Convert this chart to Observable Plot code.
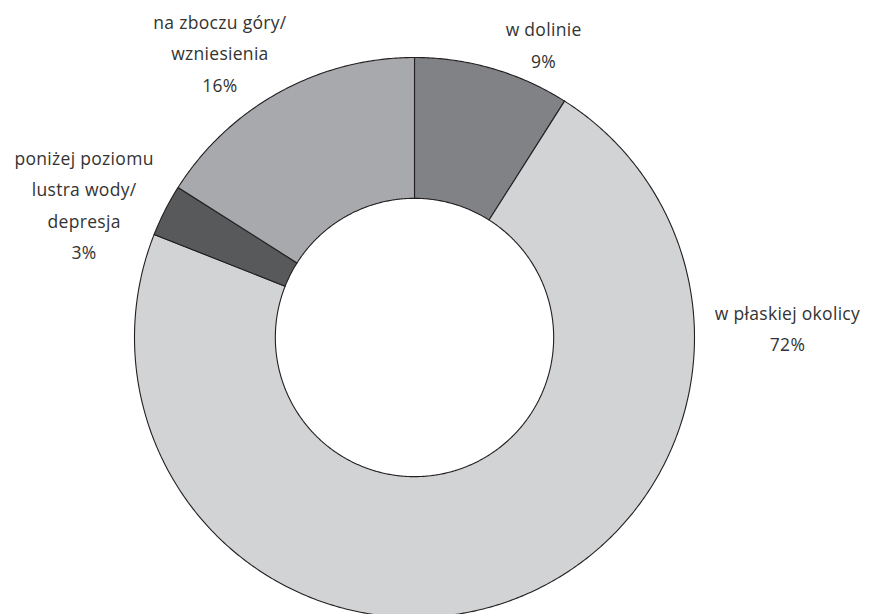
<!DOCTYPE html>
<html>
<head>
<meta charset="utf-8">
<script src="https://cdn.jsdelivr.net/npm/d3@7"></script>
<script src="https://cdn.jsdelivr.net/npm/@observablehq/plot@0.6"></script>
<style>
  html, body { margin: 0; padding: 0; background: #fff; }
  #chart svg { display: block; }
  #chart text { letter-spacing: 0.3px; }
</style>
</head>
<body>
<div id="chart"></div>
<script>
// Data
const categories = ["w dolinie", "w płaskiej okolicy", "poniżej poziomu lustra wody/ depresja", "na zboczu góry/ wzniesienia"];
const labels = ["w dolinie\n9%", "w płaskiej okolicy\n72%", "poniżej poziomu\nlustra wody/\ndepresja\n3%", "na zboczu góry/\nwzniesienia\n16%"];
const values = [9, 72, 3, 16];
const colors = ["#818285", "#d2d3d5", "#58595b", "#a7a9ac"];

// Layout (not data): label block centre offsets in outer-radius units
const labelOffsets = [[0.461, 1.056], [1.332, 0.043], [-1.18, 0.485], [-0.695, 1.027]];

const W = 880, H = 614;
const cx = 414, cy = 337, R = 280, innerRatio = 0.497;

const pie = d3.pie().sort(null).value(d => d)(values);

// Build slice polygons in data units (outer radius = 1, centre at 0,0, y up)
const rows = [];
pie.forEach((p, i) => {
  const n = Math.max(8, Math.ceil((p.endAngle - p.startAngle) * 120));
  const pts = [];
  for (let k = 0; k <= n; k++) {
    const a = p.startAngle + (p.endAngle - p.startAngle) * k / n;
    pts.push([Math.sin(a), Math.cos(a)]);
  }
  for (let k = n; k >= 0; k--) {
    const a = p.startAngle + (p.endAngle - p.startAngle) * k / n;
    pts.push([innerRatio * Math.sin(a), innerRatio * Math.cos(a)]);
  }
  pts.push(pts[0]);
  pts.forEach(([x, y]) => rows.push({cat: categories[i], x, y}));
});

const labelRows = categories.map((c, i) => ({cat: c, label: labels[i], x: labelOffsets[i][0], y: labelOffsets[i][1]}));

const chart = Plot.plot({
  width: W,
  height: H,
  margin: 0,
  style: {fontFamily: "'Open Sans', 'Noto Sans', sans-serif", background: "#fff"},
  x: {domain: [-cx / R, (W - cx) / R], axis: null},
  y: {domain: [-(H - cy) / R, cy / R], axis: null},
  color: {domain: categories, range: colors},
  marks: [
    Plot.line(rows, {x: "x", y: "y", z: "cat", fill: "cat", stroke: "#231f20", strokeWidth: 1.1, curve: "linear"}),
    Plot.text(labelRows, {x: "x", y: "y", text: "label", fill: "#333333", fontSize: 17.5, lineHeight: 1.8, textAnchor: "middle", lineAnchor: "middle"})
  ]
});
document.getElementById("chart").appendChild(chart);
</script>
</body>
</html>
